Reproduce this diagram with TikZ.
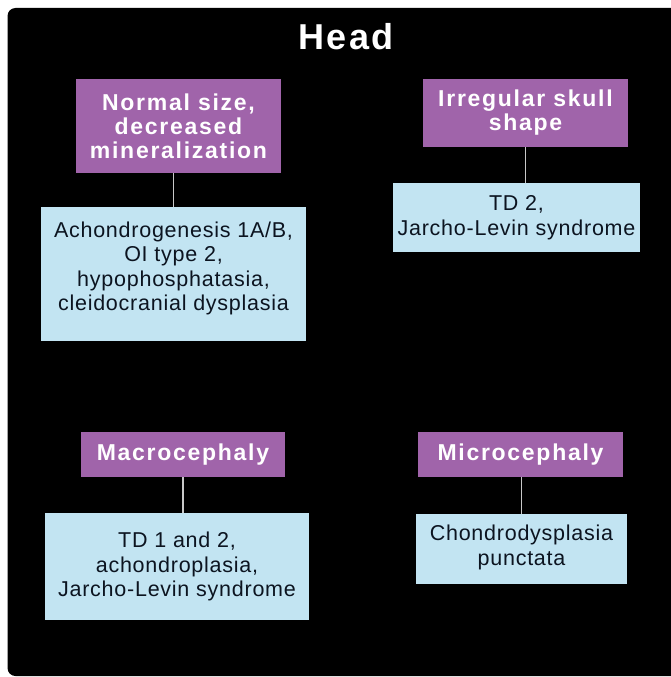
\documentclass[tikz,border=0pt]{standalone}
\usepackage{fontspec}
\setmainfont{Liberation Sans}
\newfontfamily\bluefont[LetterSpace=3.5]{Liberation Sans}
\newfontfamily\purplefont[LetterSpace=7.5]{Liberation Sans}
\newfontfamily\headfont[LetterSpace=6]{Liberation Sans}
\definecolor{boxpurple}{HTML}{A064AA}
\definecolor{boxblue}{HTML}{C2E4F2}
\definecolor{bluetext}{HTML}{0C1420}
\definecolor{linkgrey}{HTML}{C8C8C8}
\tikzset{
  pbox/.style={fill=boxpurple, text=white, inner sep=0pt, align=center,
    font=\purplefont\bfseries\fontsize{23}{24}\selectfont},
  bbox/.style={fill=boxblue, text=bluetext, inner sep=0pt, align=center,
    font=\bluefont\fontsize{21.5}{24.5}\selectfont},
  link/.style={draw=linkgrey, line width=1.5pt},
  headtext/.style={text=white, inner sep=0pt, font=\headfont\bfseries\fontsize{36}{40}\selectfont}
}
\begin{document}
\begin{tikzpicture}[x=1pt,y=-1pt]
\useasboundingbox (0,0) rectangle (670,677);
\fill[white] (0,0) rectangle (670,677);
\fill[black, rounded corners=8pt] (7.5,8) rectangle (690,676);
\node[headtext, anchor=base] (head) at (346,49) {Head};
% top left
\node[pbox, minimum width=205, minimum height=94] (p1) at (178.5,126) {Normal size,\\decreased\\mineralization};
\node[bbox, minimum width=265, minimum height=134] (b1) at (173.5,274) {};
\node[bbox, anchor=center] (t1) at (173.5,268.5) {Achondrogenesis 1A/B,\\OI type 2,\\hypophosphatasia,\\cleidocranial dysplasia};
\draw[link] (b1.north) -- (b1.north |- p1.south);
% top right
\node[pbox, minimum width=205, minimum height=68] (p2) at (525.5,113) {Irregular skull\\shape};
\node[bbox, minimum width=247, minimum height=69] (b2) at (516.5,217.5) {TD 2,\\Jarcho-Levin syndrome};
\draw[link] (p2.south) -- (p2.south |- b2.north);
% bottom left
\node[pbox, minimum width=204, minimum height=45] (p3) at (183,454.5) {Macrocephaly};
\node[bbox, minimum width=264, minimum height=107] (b3) at (177,566.5) {TD 1 and 2,\\achondroplasia,\\Jarcho-Levin syndrome};
\draw[link] (p3.south) -- (p3.south |- b3.north);
% bottom right
\node[pbox, minimum width=205, minimum height=45] (p4) at (520.5,454.5) {Microcephaly};
\node[bbox, minimum width=211, minimum height=70] (b4) at (521.5,549) {};
\node[bbox] (t4) at (521.5,547.5) {Chondrodysplasia\\punctata};
\draw[link] (b4.north) -- (b4.north |- p4.south);
\end{tikzpicture}
\end{document}
